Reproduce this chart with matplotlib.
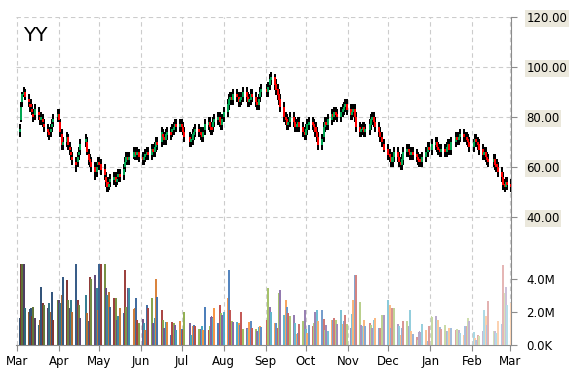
import numpy as np
import pandas as pd
import matplotlib.pyplot as plt
import matplotlib.colors as mcolors
import matplotlib.dates as mdates

# trading calendar: weekdays from 3 Mar 2014, minus market holidays
start = '2014-03-03'
holidays = ['2014-04-18', '2014-05-26', '2014-07-04', '2014-09-01', '2014-11-27',
            '2014-12-25', '2015-01-01', '2015-01-19', '2015-02-16']
months = ['Mar', 'Apr', 'May', 'Jun', 'Jul', 'Aug', 'Sep', 'Oct', 'Nov', 'Dec', 'Jan', 'Feb', 'Mar']

# daily prices (USD), roughly one row per month
opens = [
    74, 79, 86, 89, 90, 87, 85, 83, 81, 81, 82, 80, 79, 79, 77, 75, 74, 74, 76, 78, 80,
    81, 78, 73, 69, 70, 72, 68, 66, 64, 62, 62, 65, 67, 70, 70, 65, 63, 62, 60, 58, 61,
    62, 61, 59, 56, 54, 52, 54, 55, 56, 54, 56, 57, 57, 60, 62, 64, 63, 64, 66, 65, 66,
    64, 63, 64, 65, 66, 65, 67, 66, 68, 70, 70, 73, 72, 71, 73, 74, 74, 75, 76, 77, 76,
    77, 76, 74, 72, 70, 71, 73, 74, 75, 74, 73, 72, 75, 77, 78, 76, 76, 78, 79, 80, 78,
    77, 80, 82, 85, 87, 88, 87, 89, 88, 86, 87, 88, 90, 88, 86, 87, 89, 88, 86, 85, 88,
    90, 91, 90, 93, 95, 96, 93, 91, 89, 87, 84, 80, 79, 77, 78, 80, 78, 76, 77, 78, 76,
    74, 73, 75, 77, 78, 77, 76, 74, 72, 69, 72, 76, 78, 77, 79, 81, 80, 82, 81, 80, 82,
    83, 84, 85, 83, 81, 82, 83, 80, 76, 74, 75, 76, 74, 75, 77, 79, 80, 78, 76, 74, 72,
    69, 67, 65, 64, 62, 64, 66, 64, 62, 61, 63, 66, 67, 66, 65, 66, 65, 64, 63, 62, 64,
    66, 68, 67, 69, 70, 68, 67, 66, 67, 66, 68, 69, 67, 70, 72, 71, 72, 73, 72, 72, 71,
    70, 68, 70, 71, 70, 69, 67, 65, 66, 64, 63, 62, 63, 61, 60, 58, 56, 53, 52, 54, 53,
]
closes = [
    75, 84, 89, 90, 88, 86, 84, 82, 80, 83, 81, 79, 80, 78, 76, 74, 73, 75, 77, 79, 81,
    79, 74, 69, 70, 72, 69, 67, 65, 63, 61, 64, 66, 69, 71, 66, 63, 62, 60, 58, 60, 62,
    61, 59, 57, 54, 52, 53, 55, 56, 54, 55, 57, 56, 59, 62, 64, 63, 64, 66, 65, 66, 64,
    63, 64, 65, 66, 65, 67, 66, 68, 70, 69, 74, 72, 71, 73, 74, 73, 75, 76, 77, 76, 77,
    76, 74, 72, 70, 71, 73, 74, 75, 74, 73, 72, 74, 77, 78, 76, 75, 78, 79, 80, 78, 77,
    79, 82, 85, 87, 88, 87, 89, 88, 86, 87, 88, 90, 88, 86, 87, 89, 88, 86, 85, 87, 90,
    91, 90, 92, 95, 96, 93, 91, 89, 87, 84, 80, 79, 77, 78, 80, 78, 76, 77, 78, 76, 74,
    73, 75, 77, 78, 77, 76, 74, 72, 69, 71, 76, 78, 77, 79, 81, 80, 82, 81, 80, 82, 83,
    84, 85, 83, 81, 82, 83, 80, 76, 74, 75, 76, 74, 75, 77, 79, 80, 78, 76, 74, 72, 70,
    67, 65, 64, 62, 64, 66, 64, 62, 61, 63, 66, 67, 66, 65, 66, 65, 64, 63, 62, 64, 66,
    68, 67, 69, 70, 68, 67, 66, 67, 66, 68, 69, 67, 70, 72, 71, 72, 73, 72, 72, 71, 70,
    68, 70, 71, 70, 69, 67, 65, 66, 64, 63, 62, 63, 61, 60, 58, 56, 53, 52, 54, 53, 52,
]
highs = [
    77, 86, 90, 92, 91, 89, 87, 85, 83, 85, 84, 82, 82, 81, 79, 77, 76, 77, 79, 81, 83,
    83, 79, 75, 72, 74, 73, 70, 68, 66, 64, 66, 68, 71, 73, 72, 67, 65, 64, 62, 62, 64,
    64, 63, 61, 58, 56, 55, 57, 58, 58, 57, 59, 59, 61, 64, 66, 66, 66, 68, 68, 68, 67,
    66, 66, 67, 68, 68, 69, 69, 70, 72, 72, 76, 75, 74, 75, 76, 76, 77, 78, 79, 79, 79,
    79, 78, 76, 74, 73, 75, 76, 77, 77, 76, 75, 76, 79, 80, 80, 78, 80, 81, 82, 82, 80,
    81, 84, 87, 89, 90, 90, 91, 91, 90, 89, 90, 92, 92, 90, 89, 91, 91, 90, 88, 89, 92,
    93, 93, 94, 97, 98, 97, 95, 93, 91, 89, 86, 82, 81, 80, 82, 82, 80, 79, 80, 80, 78,
    76, 77, 79, 80, 80, 79, 78, 76, 74, 73, 78, 80, 80, 81, 83, 83, 84, 84, 83, 84, 85,
    86, 87, 87, 85, 84, 85, 85, 82, 78, 77, 78, 78, 77, 79, 81, 82, 82, 80, 78, 76, 74,
    71, 69, 67, 66, 66, 68, 68, 66, 64, 65, 68, 69, 69, 68, 68, 68, 67, 66, 65, 66, 68,
    70, 70, 71, 72, 72, 70, 69, 69, 69, 70, 71, 71, 72, 74, 74, 74, 75, 75, 74, 74, 73,
    72, 71, 73, 73, 72, 71, 69, 68, 68, 66, 65, 65, 65, 63, 62, 60, 58, 55, 56, 56, 55,
]
lows = [
    72, 78, 84, 88, 87, 84, 82, 81, 78, 79, 79, 77, 77, 76, 74, 72, 71, 72, 74, 76, 78,
    78, 72, 67, 67, 68, 67, 65, 63, 61, 58, 60, 63, 65, 68, 65, 61, 60, 58, 55, 56, 59,
    59, 57, 55, 52, 50, 51, 52, 53, 52, 53, 54, 54, 55, 58, 61, 61, 61, 63, 63, 63, 62,
    61, 61, 62, 63, 63, 63, 64, 64, 66, 67, 68, 70, 69, 69, 71, 71, 72, 73, 74, 74, 74,
    74, 73, 70, 68, 68, 69, 71, 72, 72, 71, 70, 70, 73, 75, 74, 73, 74, 76, 77, 76, 75,
    75, 78, 80, 83, 85, 85, 85, 86, 84, 84, 85, 86, 86, 84, 84, 85, 86, 84, 83, 83, 86,
    88, 88, 88, 91, 93, 91, 89, 87, 85, 82, 78, 77, 75, 75, 76, 76, 74, 74, 75, 74, 72,
    71, 71, 73, 75, 75, 74, 72, 70, 67, 67, 70, 74, 75, 75, 77, 78, 78, 79, 78, 78, 80,
    81, 82, 81, 79, 79, 80, 78, 74, 72, 72, 73, 72, 72, 73, 75, 77, 76, 74, 72, 70, 68,
    66, 63, 62, 60, 60, 62, 62, 60, 59, 59, 61, 64, 64, 63, 63, 63, 62, 61, 60, 60, 62,
    64, 66, 65, 67, 66, 65, 64, 64, 64, 64, 66, 65, 65, 68, 69, 69, 70, 70, 70, 69, 68,
    66, 66, 68, 68, 67, 65, 63, 63, 62, 61, 60, 60, 59, 58, 56, 54, 51, 50, 51, 51, 50,
]
# daily volume in millions of shares (tallest bars are cut off at the panel top)
volume = [
    1.6, 4.9, 4.9, 4.9, 2.2, 2.0, 2.2, 1.7, 2.3, 1.6, 1.2, 1.5, 3.5, 2.5, 2.4, 2.2, 2.5, 2.0, 3.2, 1.5, 2.7,
    2.7, 2.5, 3.0, 4.1, 3.9, 2.7, 2.2, 2.7, 2.0, 4.9, 2.7, 2.4, 1.6, 3.0, 1.9, 1.45, 4.1, 4.0, 4.2, 3.4, 2.1,
    4.9, 4.9, 4.9, 3.4, 3.0, 3.2, 2.3, 2.8, 2.8, 1.5, 1.7, 2.2, 1.9, 4.5, 2.3, 3.4, 3.4, 2.2, 2.8, 1.5, 1.3,
    1.55, 1.3, 0.9, 2.4, 2.2, 2.8, 1.3, 1.6, 4.0, 2.9, 2.1, 1.5, 1.0, 1.35, 1.35, 0.6, 1.35, 1.3, 1.2, 0.9, 1.4,
    0.95, 0.9, 2.0, 1.3, 0.6, 1.1, 1.2, 1.15, 0.95, 0.95, 1.15, 0.9, 2.3, 0.9, 1.15, 1.7, 1.6, 2.2, 1.3, 2.4, 1.9,
    1.8, 2.0, 2.8, 4.5, 2.1, 1.4, 1.35, 1.35, 1.3, 1.2, 2.0, 0.95, 1.0, 0.95, 1.35, 1.4, 1.0, 0.95, 0.8, 1.05, 1.1,
    1.05, 1.5, 3.4, 2.3, 2.0, 1.3, 1.3, 1.0, 3.1, 3.3, 1.8, 2.7, 2.3, 1.9, 1.7, 1.8, 1.3, 0.65, 0.7, 1.25, 1.4,
    2.1, 0.95, 0.7, 1.2, 1.15, 1.3, 2.0, 2.1, 1.45, 2.1, 1.55, 0.9, 1.2, 0.8, 1.5, 1.5, 1.6, 1.5, 1.25, 2.1, 1.25,
    1.45, 1.8, 1.25, 1.0, 1.85, 2.7, 4.2, 4.2, 2.6, 1.2, 1.15, 1.5, 1.1, 1.3, 1.2, 1.0, 1.5, 1.6, 1.0, 1.0, 1.8,
    1.8, 2.7, 2.4, 1.0, 2.2, 2.2, 1.25, 1.1, 0.6, 1.0, 1.45, 1.45, 1.1, 2.1, 0.8, 0.65, 0.45, 0.25, 0.8, 1.25, 0.9,
    0.2, 1.1, 1.7, 1.7, 1.5, 1.5, 1.05, 0.95, 1.2, 0.8, 0.8, 1.0, 1.0, 0.9, 0.95, 0.9, 0.7, 0.6, 1.1, 1.1, 1.6,
    1.45, 0.75, 0.4, 0.3, 0.6, 0.5, 0.8, 2.1, 1.7, 1.2, 2.65, 0.8, 0.8, 0.7, 1.4, 1.25, 4.8, 3.1, 3.5, 2.4, 2.5,
]

price_ticks = [40, 60, 80, 100, 120]
vol_ticks = [0, 2, 4]
vol_labels = ['0.0K', '2.0M', '4.0M']

base_cols = ['#4f81bd', '#c0504d', '#9bbb59', '#8064a2', '#4bacc6', '#f79646']
grey = '#8c8c8c'
dash = (0, (4, 3))

dates = pd.bdate_range(start, periods=len(closes), freq='C', holidays=holidays)
xd = mdates.date2num(dates.to_pydatetime())
month_pos = mdates.date2num(pd.date_range('2014-03-01', periods=len(months), freq='MS').to_pydatetime())

fig = plt.figure(figsize=(5.7, 3.7), dpi=100)
ax = fig.add_axes([16 / 570, 25 / 370, 495 / 570, 328 / 370])
ax2 = ax.twinx()

o = np.array(opens)
c = np.array(closes)
hi = np.array(highs)
lo = np.array(lows)
up = c >= o
body_cols = np.where(up, '#00a651', '#ff0000')

# candles: black 1px wick, coloured body drawn over it
w = 0.76  # about one pixel in days
ax.bar(xd, hi - lo, bottom=lo, width=w, color='black', linewidth=0,
       antialiased=False, snap=False, zorder=3)
ax.bar(xd, c - o, bottom=o, width=w, color=body_cols, linewidth=0,
       antialiased=False, snap=False, zorder=4)

# volume bars, palette cycles and fades from dark to pale across the year
n = len(volume)
bar_cols = []
for i in range(n):
    rgb = np.array(mcolors.to_rgb(base_cols[i % len(base_cols)]))
    s = -0.4 + 1.0 * i / (n - 1)
    if s < 0:
        rgb = rgb * (1 + s)
    else:
        rgb = rgb + (1 - rgb) * s
    bar_cols.append(rgb)
ax2.bar(xd, volume, width=w, color=bar_cols, linewidth=0, antialiased=False, snap=False)

ax.set_xlim(month_pos[0] - 0.74, month_pos[-1] + 0.74)
ax.set_xticks(month_pos)
ax.set_xticklabels(months)
ax.set_ylim(-11.2, 120)
ax.yaxis.tick_right()
ax.set_yticks(price_ticks)
ax.set_yticklabels(['%.2f' % v for v in price_ticks])
ax2.set_ylim(0, 19.9)
ax2.set_yticks(vol_ticks)
ax2.set_yticklabels(vol_labels)

ax.set_axisbelow(True)
ax.grid(True, ls=dash, color='#cccccc', lw=0.8)

for sp in ['top', 'left']:
    ax.spines[sp].set_visible(False)
for sp in ['right', 'bottom']:
    ax.spines[sp].set_color(grey)
for sp in ax2.spines.values():
    sp.set_visible(False)

ax.tick_params(axis='x', direction='out', length=4, color=grey, labelsize=8.5, pad=3)
ax.tick_params(axis='y', direction='out', length=4, color=grey, labelsize=8.5, pad=7,
               right=True, left=False)
ax2.tick_params(axis='y', direction='out', length=4, color=grey, labelsize=8.5, pad=7)

for lbl in ax.get_yticklabels():
    lbl.set_bbox(dict(boxstyle='square,pad=0.15', fc='#ebe8dc', ec='none'))

ax.text(0.014, 0.972, 'YY', transform=ax.transAxes, fontsize=14.5, va='top', ha='left')

fig.savefig('out.png', dpi=100)
